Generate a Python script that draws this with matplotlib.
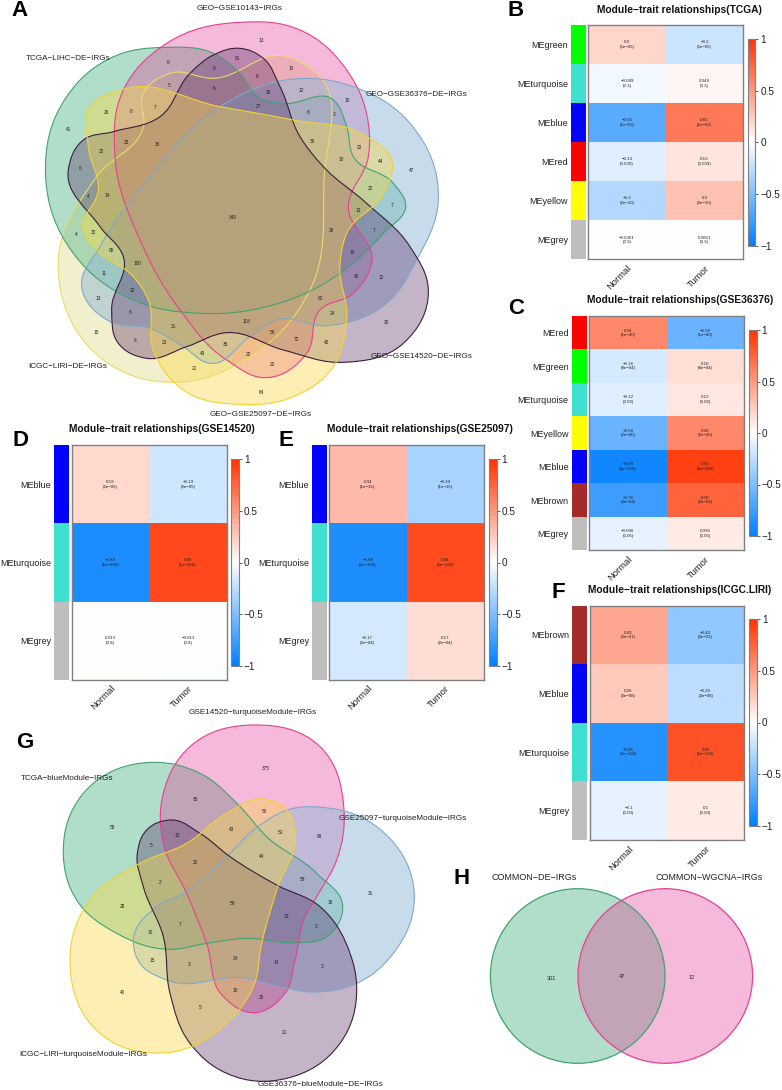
import numpy as np
import matplotlib
matplotlib.use("Agg")
import matplotlib.pyplot as plt
from matplotlib.path import Path
from matplotlib.patches import PathPatch, Circle
from matplotlib.colors import LinearSegmentedColormap, Normalize
from matplotlib.cm import ScalarMappable

plt.rcParams['font.family'] = ['Liberation Sans', 'DejaVu Sans']
W, H = 782, 1090
DPI = 100
TXT = '#222222'

# ---------- heatmap data ----------
b_modules = ['green', 'turquoise', 'blue', 'red', 'yellow', 'grey']
b_values = [0.2, -0.049, -0.65, -0.13, -0.3, -0.0061]
b_pvals = ['5e-05', '0.3', '1e-52', '0.009', '2e-10', '0.9']

c_modules = ['red', 'green', 'turquoise', 'yellow', 'blue', 'brown', 'grey']
c_values = [0.58, -0.16, -0.12, -0.58, -0.93, -0.76, -0.096]
c_pvals = ['1e-40', '8e-04', '0.02', '2e-40', '4e-165', '3e-64', '0.05']

d_modules = ['blue', 'turquoise', 'grey']
d_values = [0.19, -0.89, 0.013]
d_pvals = ['2e-05', '1e-166', '0.8']

e_modules = ['blue', 'turquoise', 'grey']
e_values = [0.34, -0.88, -0.17]
e_pvals = ['1e-15', '6e-160', '2e-04']

f_modules = ['brown', 'blue', 'turquoise', 'grey']
f_values = [0.43, 0.26, -0.85, -0.1]
f_pvals = ['3e-21', '3e-08', '2e-126', '0.03']

traits = ['Normal', 'Tumor']
cb_ticks = [-1, -0.5, 0, 0.5, 1]
cb_labels = ['\u22121', '\u22120.5', '0', '0.5', '1']

# ---------- venn counts ----------
a_counts = [13, 6, 61, 5, 6, 10, 5, 6, 35, 12, 15, 26, 8, 7, 27, 8, 3, 41, 25, 36, 36, 20, 22, 10,
            44, 47, 6, 22, 4, 14, 7, 13, 348, 26, 7, 32, 4, 65, 10, 100, 11, 40, 12, 12, 13, 62,
            8, 24, 118, 30, 15, 31, 58, 42, 6, 23, 72, 35, 43, 22, 20, 21, 64]
g_counts = [375, 85, 50, 55, 43, 51, 66, 13, 5, 44, 20, 59, 2, 31, 16, 59, 28, 13, 7, 3, 10, 24,
            15, 14, 3, 3, 10, 40, 25, 5, 21]
h_counts = [301, 47, 12]

a_sets = ['GEO-GSE10143-IRGs', 'TCGA-LIHC-DE-IRGs', 'GEO-GSE36376-DE-IRGs',
          'GEO-GSE14520-DE-IRGs', 'GEO-GSE25097-DE-IRGs', 'ICGC-LIRI-DE-IRGs']
g_sets = ['GSE14520-turquoiseModule-IRGs', 'TCGA-blueModule-IRGs', 'GSE25097-turquoiseModule-IRGs',
          'GSE36376-blueModule-DE-IRGs', 'ICGC-LIRI-turquoiseModule-IRGs']
h_sets = ['COMMON-DE-IRGs', 'COMMON-WGCNA-IRGs']

# ---------- layout (pixels; region positions, not data) ----------
a_count_xy = [(785,121),(503,186),(711,175),(641,206),(771,228),(875,206),(508,256),(642,267),(807,276),
    (903,270),(1042,301),(318,337),(394,334),(466,322),(776,319),(923,336),(1001,345),(205,388),(378,426),
    (471,435),(938,425),(1077,443),(305,454),(1025,479),(1141,485),(1235,511),(240,506),(1112,565),(265,588),
    (323,587),(1175,616),(1074,631),(699,652),(995,692),(1122,692),(280,697),(229,703),(333,752),(1057,759),
    (411,790),(311,821),(1070,831),(1145,833),(397,873),(294,894),(962,896),(390,938),(997,941),(741,964),
    (1158,966),(289,996),(521,978),(819,997),(981,1026),(404,1020),(493,1026),(890,1018),(677,1032),(608,1060),
    (746,1063),(817,1092),(583,1104),(783,1176)]
g_count_xy = [(797,175),(586,269),(792,304),(339,353),(694,358),(842,366),(957,381),(532,376),(454,406),
    (785,441),(587,456),(906,509),(480,517),(1113,551),(991,579),(696,580),(366,589),(858,621),(540,642),
    (948,650),(450,669),(706,745),(456,752),(830,758),(566,763),(967,768),(706,840),(368,847),(785,862),
    (601,893),(853,968)]
h_count_xy = [(243,384),(455,378),(666,382)]
a_label_xy = [(240,8),(68,58),(416,94),(422,356),(261,414),(68,366)]
g_label_xy = [(253,712),(67,778),(403,818),(321,1085),(83,1055)]
h_label_xy = [(534,878),(709,878)]

# (edge colour, fill colour, fill alpha)
PINK = ('#E7408F', '#E2399A', 0.35)
GREEN = ('#3FA373', '#65BF95', 0.5)
BLUE = ('#7FA9CC', '#91B9D7', 0.5)
DARK = ('#3A1F3C', '#542962', 0.35)
GOLD = ('#F3D22E', '#FAD944', 0.4)
PALE = ('#E8DC6A', '#E7E19B', 0.5)

a_outlines = [
    (PALE, [(520,1147),(340,1100),(175,780),(290,530),(430,380),(430,280),(510,220),(640,235),(860,170),
            (950,220),(972,540),(925,880),(750,1070)]),
    (GREEN, [(500,142),(640,160),(720,220),(780,295),(850,310),(1000,300),(1040,380),(1060,470),(1180,550),
             (1217,615),(1150,700),(1020,820),(800,920),(600,940),(400,900),(220,760),(137,530),(200,290),(330,175)]),
    (PINK, [(720,67),(900,90),(1040,210),(1105,370),(1105,470),(1045,620),(1115,790),(1060,880),(960,930),
            (920,1060),(800,1133),(680,1080),(540,930),(420,720),(345,470),(370,270),(500,130)]),
    (BLUE, [(880,237),(1060,260),(1230,370),(1315,600),(1250,780),(1160,910),(980,977),(830,960),(750,1010),
            (630,1090),(550,1040),(450,985),(330,965),(245,860),(300,740),(450,530),(660,320)]),
    (DARK, [(720,145),(790,175),(840,260),(900,410),(970,500),(1100,610),(1230,740),(1285,870),(1210,1030),
            (1030,1087),(850,1050),(680,998),(560,1040),(440,1075),(355,1030),(335,930),(370,770),(300,680),
            (205,510),(250,420),(340,395),(480,350),(570,220),(640,165)]),
    (GOLD, [(370,268),(660,320),(880,360),(1100,410),(1175,480),(1150,580),(1040,700),(1020,790),(1040,960),
            (1000,1100),(880,1190),(720,1213),(550,1170),(460,1050),(445,900),(400,830),(290,750),(250,690),
            (295,570),(265,440),(270,320)]),
]
g_outlines = [
    (GREEN, [(465,157),(600,190),(720,290),(800,380),(950,490),(1028,590),(980,680),(880,698),(740,685),
             (620,700),(510,718),(350,670),(230,570),(190,430),(250,250)]),
    (PINK, [(760,45),(960,110),(1032,300),(1010,450),(950,560),(915,620),(885,750),(855,850),(760,908),
            (670,860),(620,700),(560,550),(490,400),(490,250),(570,110)]),
    (BLUE, [(965,292),(1130,350),(1243,560),(1180,730),(1070,820),(940,846),(820,825),(740,805),(500,810),
            (420,760),(400,690),(470,590),(560,545),(680,440),(780,345),(880,295)]),
    (DARK, [(515,330),(600,370),(690,440),(830,525),(960,590),(1050,730),(1070,830),(1020,1000),(860,1105),
            (680,1090),(570,1000),(510,850),(490,680),(430,530),(412,430),(440,360)]),
    (GOLD, [(790,267),(860,300),(885,370),(830,540),(785,700),(760,830),(690,930),(500,1028),(300,970),
            (210,760),(270,570),(420,460),(560,400),(680,310)]),
]

fig = plt.figure(figsize=(W / DPI, H / DPI), dpi=DPI, facecolor='white')
bg = fig.add_axes([0, 0, 1, 1])
bg.set_xlim(0, W)
bg.set_ylim(H, 0)
bg.axis('off')


def smooth_closed(points):
    """Closed smooth curve; handle length follows each chord so uneven spacing stays round."""
    p = np.asarray(points, float)
    n = len(p)
    tang = []
    for i in range(n):
        a = p[(i + 1) % n] - p[i]
        b = p[i] - p[i - 1]
        la, lb = np.hypot(*a), np.hypot(*b)
        t = a / la * lb + b / lb * la
        tang.append(t / np.hypot(*t))
    verts, codes = [p[0]], [Path.MOVETO]
    for i in range(n):
        j = (i + 1) % n
        d = np.hypot(*(p[j] - p[i])) * 0.36
        verts += [p[i] + tang[i] * d, p[j] - tang[j] * d, p[j]]
        codes += [Path.CURVE4] * 3
    return Path(verts, codes)


def venn(outlines, ox, oy, scale=1 / 3):
    for (edge, fill, alpha), pts in outlines:
        px = [(ox + x * scale, oy + y * scale) for x, y in pts]
        bg.add_patch(PathPatch(smooth_closed(px), facecolor=fill, edgecolor='none', alpha=alpha, zorder=1))
    for (edge, fill, alpha), pts in outlines:
        px = [(ox + x * scale, oy + y * scale) for x, y in pts]
        bg.add_patch(PathPatch(smooth_closed(px), facecolor='none', edgecolor=edge, lw=0.8, zorder=2))


def counts(values, xy, ox, oy, size=3.4):
    for v, (x, y) in zip(values, xy):
        bg.text(ox + x / 3, oy + y / 3, str(v), fontsize=size, ha='center', va='center', color=TXT, zorder=3)


def labels(names, xy, size=5.85):
    for n, (x, y) in zip(names, xy):
        bg.text(x, y, n.replace('-', '\u2212'), fontsize=size, ha='center', va='center', color=TXT, zorder=3)


venn(a_outlines, 0, 0)
counts(a_counts, a_count_xy, 0, 0)
labels(a_sets, a_label_xy)

venn(g_outlines, 0, 710)
counts(g_counts, g_count_xy, 0, 710)
labels(g_sets, g_label_xy)

for (edge, fill, alpha), cx in zip([GREEN, PINK], [577.7, 665.3]):
    bg.add_patch(Circle((cx, 976), 87.3, facecolor=fill, edgecolor='none', alpha=alpha, zorder=1))
for (edge, fill, alpha), cx in zip([GREEN, PINK], [577.7, 665.3]):
    bg.add_patch(Circle((cx, 976), 87.3, facecolor='none', edgecolor=edge, lw=0.9, zorder=2))
counts(h_counts, h_count_xy, 470, 850, size=4.0)
labels(h_sets, h_label_xy, size=6.5)

# ---------- heatmaps ----------
cmap = LinearSegmentedColormap.from_list('bwr2', ['#007FFF', '#FFFFFF', '#FF3300'])
norm = Normalize(-1, 1)
MOD_COL = {'green': '#00FF00', 'turquoise': '#40E0D0', 'blue': '#0000FF', 'red': '#FF0000',
           'yellow': '#FFFF00', 'grey': '#BEBEBE', 'brown': '#A52A2A'}
GREY = '#808080'


def ax_px(x0, x1, y0, y1, **kw):
    return fig.add_axes([x0 / W, 1 - y1 / H, (x1 - x0) / W, (y1 - y0) / H], **kw)


def fmt(v):
    return f'{v:g}'.replace('-', '\u2212')


def heat(modules, values, pvals, title, tx, ty, box, side, cbar):
    x0, x1, y0, y1 = box
    ax = ax_px(x0, x1, y0, y1)
    vals = np.array(values)
    mat = np.column_stack([vals, -vals])
    ax.pcolormesh(mat, cmap=cmap, norm=norm)
    ax.set_ylim(len(modules), 0)
    ax.set_xlim(0, 2)
    for i, (v, p) in enumerate(zip(values, pvals)):
        for j, s in enumerate([v, -v]):
            ax.text(j + 0.5, i + 0.5, f'{fmt(s)}\n({p.replace("-", chr(0x2212))})', fontsize=3.2,
                    ha='center', va='center', color=TXT, linespacing=1.15)
    for sp in ax.spines.values():
        sp.set_color(GREY)
        sp.set_linewidth(1.0)
    ax.set_yticks([])
    ax.set_xticks([0.5, 1.5])
    ax.set_xticklabels(traits, rotation=45, ha='right', va='top', rotation_mode='anchor',
                       fontsize=6.8, color=TXT)
    ax.tick_params(axis='x', length=0, pad=3)

    sx = ax_px(side[0], side[1], y0, y1)
    for i, m in enumerate(modules):
        sx.axhspan(i, i + 1, color=MOD_COL[m], lw=0)
    sx.set_ylim(len(modules), 0)
    sx.set_xlim(0, 1)
    sx.set_xticks([])
    sx.set_yticks(np.arange(len(modules)) + 0.5)
    sx.set_yticklabels(['ME' + m for m in modules], fontsize=6.5, color=TXT)
    sx.tick_params(axis='y', length=0, pad=2.2)
    for sp in sx.spines.values():
        sp.set_visible(False)

    cx = ax_px(*cbar)
    cb = fig.colorbar(ScalarMappable(norm=norm, cmap=cmap), cax=cx)
    cb.set_ticks(cb_ticks)
    cb.set_ticklabels(cb_labels)
    cb.ax.tick_params(labelsize=7.2, length=2.5, width=0.6, pad=1, color='#444444', labelcolor=TXT)
    cb.outline.set_edgecolor(GREY)
    cb.outline.set_linewidth(0.8)
    bg.text(tx, ty, title.replace('-', '\u2212'), fontsize=7.4, fontweight='bold', ha='center',
            va='center', color='#111111')


heat(b_modules, b_values, b_pvals, 'Module-trait relationships(TCGA)', 679, 10,
     (588.3, 743.3, 25, 259.3), (571, 586), (747.7, 755.3, 39, 245.7))
heat(c_modules, c_values, c_pvals, 'Module-trait relationships(GSE36376)', 680, 300,
     (589.3, 744, 316, 550.3), (571.7, 586.7), (748.7, 756.7, 330, 536))
heat(d_modules, d_values, d_pvals, 'Module-trait relationships(GSE14520)', 162, 429,
     (71.7, 226.7, 445.3, 679.7), (54.3, 69.3), (231, 239, 459.3, 665.7))
heat(e_modules, e_values, e_pvals, 'Module-trait relationships(GSE25097)', 420, 429,
     (329, 484, 445.3, 679.7), (312, 327), (488.7, 496.7, 459.3, 665.7))
heat(f_modules, f_values, f_pvals, 'Module-trait relationships(ICGC.LIRI)', 680, 590,
     (590, 744.3, 605.7, 840), (572.3, 587.3), (749, 757, 619.3, 825.7))

for letter, x, y in [('A', 20, 11), ('B', 516, 10), ('C', 516, 309), ('D', 20, 440), ('E', 286, 440),
                     ('F', 558, 593), ('G', 25, 742), ('H', 462, 879)]:
    bg.text(x, y, letter, fontsize=16, fontweight='bold', ha='center', va='center', color='black')

fig.savefig('out.png', dpi=DPI)
